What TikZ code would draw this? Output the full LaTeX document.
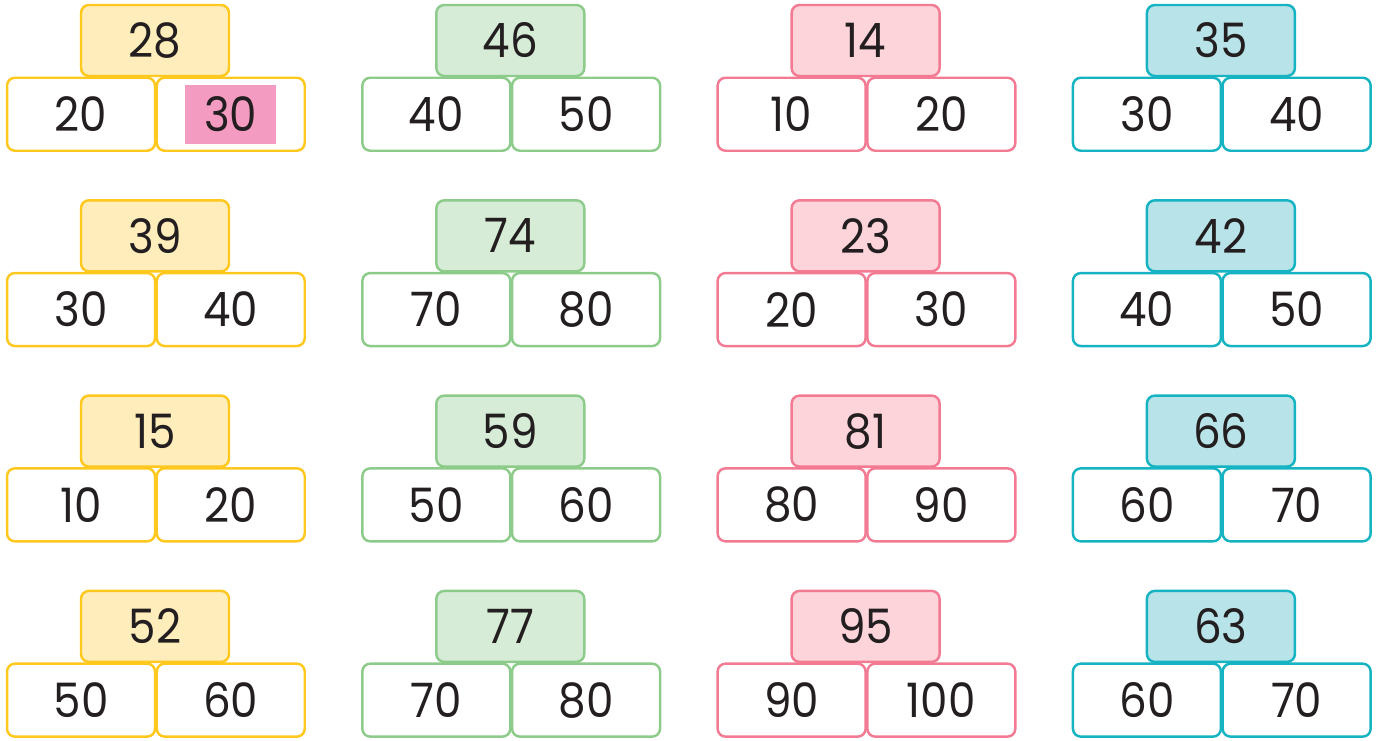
\documentclass[tikz,border=0pt]{standalone}
\usepackage{fontspec}
\setmainfont{Poppins}[FakeStretch=0.92]
\usetikzlibrary{positioning, backgrounds}
\definecolor{ink}{HTML}{231F20}
\definecolor{sunline}{HTML}{FFC81E}
\definecolor{sunfill}{HTML}{FFEDBB}
\definecolor{leafline}{HTML}{8DCB8B}
\definecolor{leaffill}{HTML}{D6ECD7}
\definecolor{roseline}{HTML}{F27B93}
\definecolor{rosefill}{HTML}{FCD4DA}
\definecolor{sealine}{HTML}{16B3C2}
\definecolor{seafill}{HTML}{B8E3E8}
\definecolor{hilite}{HTML}{F49BC2}
\tikzset{
  cell/.style={draw, line width=1.4pt, rounded corners=4.5pt,
               minimum width=2.96cm, minimum height=1.46cm,
               inner sep=0pt, outer sep=0pt, text=ink,
               font=\fontsize{27}{30}\selectfont},
  head/.style={cell, minimum height=1.42cm},
}

\begin{document}
\begin{tikzpicture}[x=0.02cm, y=-0.02cm]
  \useasboundingbox (0,0) rectangle (1378,740);
  \foreach \col/\clr/\data in {%
      0/sun/{28/20/30, 39/30/40, 15/10/20, 52/50/60},
      1/leaf/{46/40/50, 74/70/80, 59/50/60, 77/70/80},
      2/rose/{14/10/20, 23/20/30, 81/80/90, 95/90/100},
      3/sea/{35/30/40, 42/40/50, 66/60/70, 63/60/70}}{
    \foreach \top/\lo/\hi [count=\row from 0] in \data {
      \node[head, draw=\clr line, fill=\clr fill]
        (hd-\col-\row) at (155+355.3*\col, 40.5+195.3*\row) {\top};
      \node[cell, draw=\clr line, anchor=north east]
        (lft-\col-\row) at ([yshift=-1pt]hd-\col-\row.south) {\lo};
      \node[cell, draw=\clr line, anchor=north west]
        (rgt-\col-\row) at ([xshift=1pt]lft-\col-\row.north east) {\hi};
    }
  }
  % highlighted answer
  \begin{scope}[on background layer]
    \node[fill=hilite, minimum width=1.82cm, minimum height=1.18cm,
          inner sep=0pt] (mark) at (rgt-0-0) {};
  \end{scope}
\end{tikzpicture}
\end{document}
